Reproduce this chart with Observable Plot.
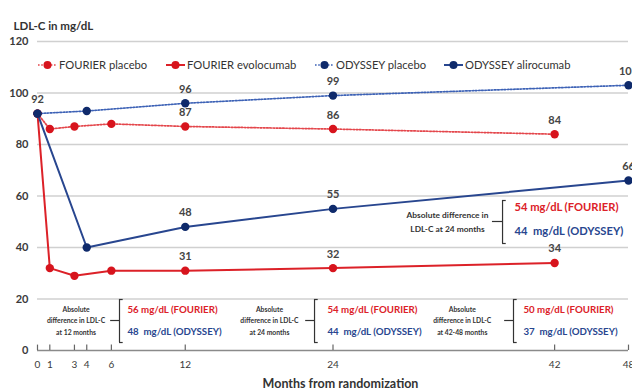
<!DOCTYPE html>
<html>
<head>
<meta charset="utf-8">
<script src="https://cdn.jsdelivr.net/npm/d3@7"></script>
<script src="https://cdn.jsdelivr.net/npm/@observablehq/plot@0.6"></script>
<style>
  html, body { margin: 0; padding: 0; background: #fff; }
  #wrap { position: relative; width: 632px; height: 392px; overflow: hidden; font-family: Lato, "Open Sans", sans-serif; }
  .legend { position: absolute; top: 58px; left: 0; width: 632px; height: 18px; }
  .item { position: absolute; display: flex; align-items: center; font-size: 11.2px; color: #333; white-space: nowrap; }
  .item svg { margin-right: 2px; }
</style>
</head>
<body>
<div id="wrap"></div>
<script>
// ---------- data ----------
const fourierMonths = [0, 1, 3, 6, 12, 24, 42];
const fourierPlacebo = [92, 86, 87, 88, 87, 86, 84];
const fourierEvolocumab = [92, 32, 29, 31, 31, 32, 34];
const odysseyMonths = [0, 4, 12, 24, 48];
const odysseyPlacebo = [92, 93, 96, 99, 103];
const odysseyAlirocumab = [92, 40, 48, 55, 66];
const labeledMonths = [12, 24, 42, 48];
const tickMonths = [0, 1, 3, 4, 6, 12, 24, 42, 48];
const yTicks = [0, 20, 40, 60, 80, 100, 120];
const seriesNames = ["FOURIER placebo", "FOURIER evolocumab", "ODYSSEY placebo", "ODYSSEY alirocumab"];

const diffPeriods = ["at 12 months", "at 24 months", "at 42-48 months"];
const diffFourier = [56, 54, 50];
const diffOdyssey = [48, 44, 37];
const calloutFourier = 54;
const calloutOdyssey = 44;

// ---------- styles / layout ----------
const red = "#dc2128", redDot = "#d7141d", redDotted = "#e4464b";
const blue = "#28468f", blueDot = "#0f2a6b", blueDotted = "#3d62b6";
const styles = [
  {name: seriesNames[0], line: redDotted, dot: redDot, dash: "1.6,1.6", width: 1.7},
  {name: seriesNames[1], line: red, dot: redDot, dash: null, width: 2},
  {name: seriesNames[2], line: blueDotted, dot: blueDot, dash: "1.6,1.6", width: 1.7},
  {name: seriesNames[3], line: blue, dot: blueDot, dash: null, width: 2}
];

const series = [
  fourierMonths.map((m, i) => ({series: seriesNames[0], month: m, value: fourierPlacebo[i]})),
  fourierMonths.map((m, i) => ({series: seriesNames[1], month: m, value: fourierEvolocumab[i]})),
  odysseyMonths.map((m, i) => ({series: seriesNames[2], month: m, value: odysseyPlacebo[i]})),
  odysseyMonths.map((m, i) => ({series: seriesNames[3], month: m, value: odysseyAlirocumab[i]}))
];
const pointLabels = [series[0][0]].concat(...series.map(s => s.filter(d => labeledMonths.includes(d.month))));

// annotation anchors (data units)
const groupTextX = [3.13, 18.84, 34.5];
const bracketX = [6.66, 22.5, 38.66];
const valueX = [7.31, 23.55, 39.47];
const groups = diffPeriods.map((p, i) => ({
  text: "Absolute\ndifference in LDL-C\n" + p, tx: groupTextX[i], ty: 12.0,
  bx: bracketX[i], y1: 3.1, y2: 19.8, ym: 11.65, dashX: bracketX[i] - 0.72,
  vx: valueX[i],
  red: diffFourier[i] + " mg/dL (FOURIER)", redY: 15.9,
  blue: diffOdyssey[i] + "  mg/dL (ODYSSEY)", blueY: 7.4
}));
const callout = [{
  text: "Absolute difference in\nLDL-C at 24 months", tx: 33.3, ty: 50.5,
  bx: 37.77, y1: 41.55, y2: 58.25, ym: 50.1, dashX: 36.95,
  vx: 38.74,
  red: calloutFourier + " mg/dL (FOURIER)", redY: 55.5,
  blue: calloutOdyssey + "  mg/dL (ODYSSEY)", blueY: 46.2
}];
const allBrackets = groups.concat(callout);
const serifLen = 0.3;

const marks = [
  Plot.gridY(yTicks.filter(v => v > 0), {stroke: "#d0d0d0", strokeOpacity: 1, strokeWidth: 1.5}),
  Plot.ruleY([0], {stroke: "#8a8a8a", strokeWidth: 1.5}),
  Plot.ruleX(tickMonths, {x: d => d, y1: 0, y2: 2.1, stroke: "#666", strokeWidth: 1.2}),
  Plot.axisY({ticks: yTicks, tickSize: 0, tickPadding: 9, fontSize: 11, fontWeight: "bold", fill: "#3a3a3a", label: null}),
  Plot.axisX({ticks: tickMonths, tickSize: 0, tickPadding: 10, fontSize: 10, fill: "#3a3a3a", label: null})
];
series.forEach((s, i) => {
  const st = styles[i];
  marks.push(Plot.line(s, {x: "month", y: "value", stroke: st.line, strokeWidth: st.width, strokeDasharray: st.dash}));
});
series.forEach((s, i) => {
  const st = styles[i];
  marks.push(Plot.dot(s, {x: "month", y: "value", r: 4.2, fill: st.dot, stroke: "none"}));
});
marks.push(
  Plot.text(pointLabels, {x: "month", y: "value", text: d => String(d.value), dy: -14, fontSize: 11, fontWeight: "bold", fill: "#444"}),
  // annotation blocks
  Plot.text(groups, {x: "tx", y: "ty", text: "text", fontSize: 6.8, lineHeight: 1.75, fill: "#333", fontWeight: "bold"}),
  Plot.text(callout, {x: "tx", y: "ty", text: "text", fontSize: 8.4, lineHeight: 1.65, fill: "#333", fontWeight: "bold"}),
  Plot.ruleX(allBrackets, {x: "bx", y1: "y1", y2: "y2", stroke: "#333", strokeWidth: 1.2}),
  Plot.ruleY(allBrackets, {y: "y1", x1: "bx", x2: d => d.bx + serifLen, stroke: "#333", strokeWidth: 1.2}),
  Plot.ruleY(allBrackets, {y: "y2", x1: "bx", x2: d => d.bx + serifLen, stroke: "#333", strokeWidth: 1.2}),
  Plot.ruleY(allBrackets, {y: "ym", x1: "dashX", x2: "bx", stroke: "#333", strokeWidth: 1.2}),
  Plot.text(groups, {x: "vx", y: "redY", text: "red", textAnchor: "start", fontSize: 9.7, fill: red, fontWeight: "bold"}),
  Plot.text(groups, {x: "vx", y: "blueY", text: "blue", textAnchor: "start", fontSize: 9.7, fill: blue, fontWeight: "bold"}),
  Plot.text(callout, {x: "vx", y: "redY", text: "red", textAnchor: "start", fontSize: 11.2, fill: red, fontWeight: "bold"}),
  Plot.text(callout, {x: "vx", y: "blueY", text: "blue", textAnchor: "start", fontSize: 11.2, fill: blue, fontWeight: "bold"}),
  // titles
  Plot.text(["LDL-C in mg/dL"], {frameAnchor: "top-left", dx: -24, dy: -20, textAnchor: "start", fontSize: 11.5, fontWeight: "bold", fill: "#333"}),
  Plot.text(["Months from randomization"], {frameAnchor: "bottom", dx: 7.5, dy: 37, fontSize: 12.5, fontWeight: "bold", fill: "#333"})
);

const chart = Plot.plot({
  width: 632, height: 392,
  marginTop: 41, marginBottom: 42, marginLeft: 37, marginRight: 4,
  style: {fontFamily: "Lato, 'Open Sans', sans-serif", background: "white", overflow: "hidden"},
  x: {domain: [0, 48]},
  y: {domain: [0, 120]},
  marks
});
const wrap = document.getElementById("wrap");
wrap.appendChild(chart);

// legend (HTML overlay)
const legendLeft = [38, 166, 315, 444];
const legend = document.createElement("div");
legend.className = "legend";
styles.forEach((st, i) => {
  const it = document.createElement("div");
  it.className = "item";
  it.style.left = legendLeft[i] + "px";
  it.innerHTML = `<svg width="19" height="12"><line x1="0" y1="6" x2="19" y2="6" stroke="${st.line}" stroke-width="${st.width}" ${st.dash ? `stroke-dasharray="${st.dash}"` : ""}/><circle cx="9.5" cy="6" r="4" fill="${st.dot}"/></svg><span>${st.name}</span>`;
  legend.appendChild(it);
});
wrap.appendChild(legend);
</script>
</body>
</html>
